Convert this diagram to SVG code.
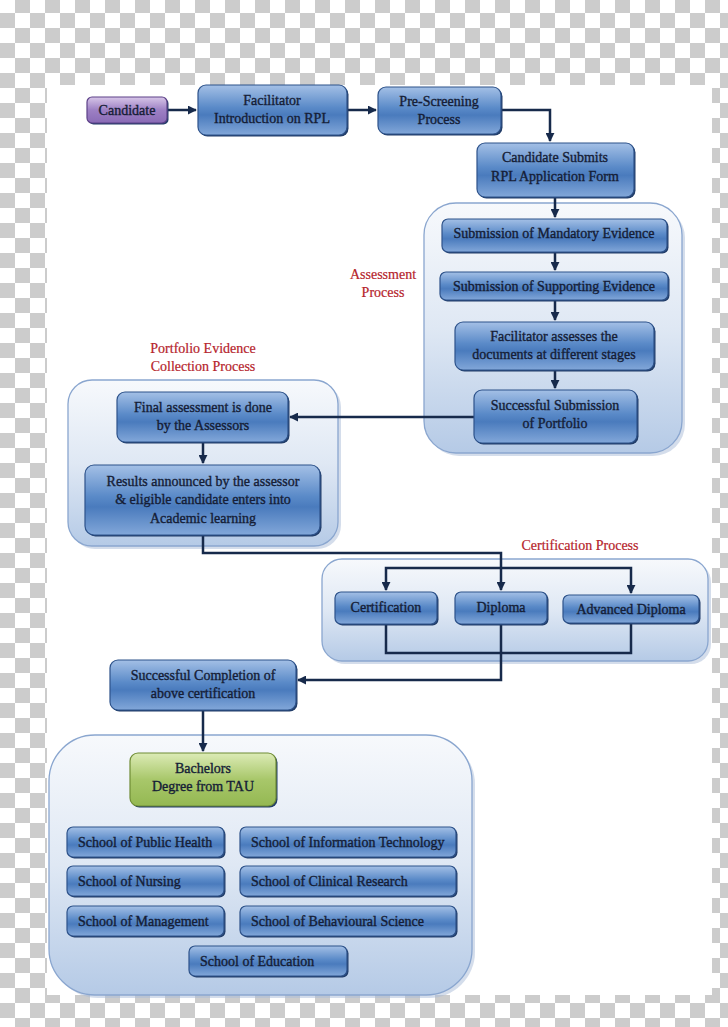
<svg xmlns="http://www.w3.org/2000/svg" width="728" height="1027" viewBox="0 0 728 1027">
<defs>
<pattern id="checker" patternUnits="userSpaceOnUse" x="0" y="-2" width="30" height="30">
<rect width="30" height="30" fill="#ffffff"/>
<rect x="15" y="0" width="15" height="15" fill="#cccccc"/>
<rect x="0" y="15" width="15" height="15" fill="#cccccc"/>
</pattern>
<linearGradient id="blue" x1="0" y1="0" x2="0" y2="1">
<stop offset="0" stop-color="#a4c0e6"/>
<stop offset="0.45" stop-color="#5a8ac8"/>
<stop offset="0.6" stop-color="#4a7bbd"/>
<stop offset="1" stop-color="#82a7d9"/>
</linearGradient>
<linearGradient id="purple" x1="0" y1="0" x2="0" y2="1">
<stop offset="0" stop-color="#d7c6e8"/>
<stop offset="0.5" stop-color="#9d80c4"/>
<stop offset="1" stop-color="#8a6bb6"/>
</linearGradient>
<linearGradient id="green" x1="0" y1="0" x2="0" y2="1">
<stop offset="0" stop-color="#dcebb6"/>
<stop offset="0.5" stop-color="#a8c76a"/>
<stop offset="1" stop-color="#94b852"/>
</linearGradient>
<linearGradient id="cont" x1="0" y1="0" x2="0" y2="1">
<stop offset="0" stop-color="#f7f9fc"/>
<stop offset="0.5" stop-color="#dfe8f4"/>
<stop offset="1" stop-color="#b5cae6"/>
</linearGradient>
<marker id="arr" viewBox="0 0 10 10" refX="9" refY="5" markerWidth="9" markerHeight="9" markerUnits="userSpaceOnUse" orient="auto">
<path d="M0,0 L10,5 L0,10 z" fill="#172a4b"/>
</marker>
</defs>
<style>
.box{fill:url(#blue);stroke:#2d528a;stroke-width:1.2}
.sh{fill:#223d68}
.pbox{fill:url(#purple);stroke:#5d4188;stroke-width:1.2}
.gbox{fill:url(#green);stroke:#6f8c35;stroke-width:1.2}
.cont{fill:url(#cont);stroke:#8aa6cf;stroke-width:1.3}
.csh{fill:#a9bcd8;opacity:0.5}
text{font-family:"Liberation Serif","Times New Roman",serif;font-size:14px;fill:#151d36;stroke:#151d36;stroke-width:0.35}
.c{text-anchor:middle}
.red{fill:#b5232b;stroke:#b5232b;stroke-width:0.2}
.conn{fill:none;stroke:#172a4b;stroke-width:2.5}
</style>
<rect width="728" height="1027" fill="url(#checker)"/>
<rect x="47" y="85" width="665" height="910" fill="#ffffff"/>

<g id="containers">
<g id="assessment-container">
<rect class="csh" x="427" y="206" width="258" height="250" rx="32"/>
<rect class="cont" x="424" y="203" width="258" height="250" rx="32"/>
</g>
<g id="portfolio-container">
<rect class="csh" x="71" y="383" width="270" height="166" rx="24"/>
<rect class="cont" x="68" y="380" width="270" height="166" rx="24"/>
</g>
<g id="certification-container">
<rect class="csh" x="325" y="562" width="386" height="102" rx="20"/>
<rect class="cont" x="322" y="559" width="386" height="102" rx="20"/>
</g>
<g id="bachelors-container">
<rect class="csh" x="52" y="738" width="423" height="260" rx="46"/>
<rect class="cont" x="49" y="735" width="423" height="260" rx="46"/>
</g>
</g>

<g id="labels">
<text class="c red" x="383" y="279">Assessment</text>
<text class="c red" x="383" y="297">Process</text>
<text class="c red" x="203" y="353">Portfolio Evidence</text>
<text class="c red" x="203" y="371">Collection Process</text>
<text class="c red" x="580" y="550">Certification Process</text>
</g>

<g id="connectors">
<path class="conn" d="M167,110 H196" marker-end="url(#arr)"/>
<path class="conn" d="M347,110 H376" marker-end="url(#arr)"/>
<path class="conn" d="M501,110 H550 V141" marker-end="url(#arr)"/>
<path class="conn" d="M555,197 V217" marker-end="url(#arr)"/>
<path class="conn" d="M555,252 V270" marker-end="url(#arr)"/>
<path class="conn" d="M555,300 V320" marker-end="url(#arr)"/>
<path class="conn" d="M555,370 V388" marker-end="url(#arr)"/>
<path class="conn" d="M474,417 H290" marker-end="url(#arr)"/>
<path class="conn" d="M203,442 V463" marker-end="url(#arr)"/>
<path class="conn" d="M203,535 V553 H501 V590" marker-end="url(#arr)"/>
<path class="conn" d="M501,568 H386 V590" marker-end="url(#arr)"/>
<path class="conn" d="M501,568 H631 V593" marker-end="url(#arr)"/>
<path class="conn" d="M386,624 V653 H631 V623"/>
<path class="conn" d="M501,624 V680 H298" marker-end="url(#arr)"/>
<path class="conn" d="M203,710 V751" marker-end="url(#arr)"/>
</g>

<g id="n-candidate">
<rect class="sh" x="88.5" y="98.5" width="80" height="26" rx="5"/>
<rect class="pbox" x="87" y="97" width="80" height="26" rx="5"/>
<text class="c" x="127" y="114.5">Candidate</text>
</g>
<g id="n-facilitator">
<rect class="sh" x="199.5" y="86.5" width="149" height="50" rx="8"/>
<rect class="box" x="198" y="85" width="149" height="50" rx="8"/>
<text class="c" x="272" y="105">Facilitator</text>
<text class="c" x="272" y="123">Introduction on RPL</text>
</g>
<g id="n-prescreening">
<rect class="sh" x="379.5" y="88.5" width="123" height="47" rx="8"/>
<rect class="box" x="378" y="87" width="123" height="47" rx="8"/>
<text class="c" x="439" y="106">Pre-Screening</text>
<text class="c" x="439" y="124">Process</text>
</g>
<g id="n-submits">
<rect class="sh" x="478.5" y="144.5" width="157" height="54" rx="8"/>
<rect class="box" x="477" y="143" width="157" height="54" rx="8"/>
<text class="c" x="555" y="162">Candidate Submits</text>
<text class="c" x="555" y="181">RPL Application Form</text>
</g>
<g id="n-mandatory">
<rect class="sh" x="443.5" y="220.5" width="225" height="33" rx="6"/>
<rect class="box" x="442" y="219" width="225" height="33" rx="6"/>
<text class="c" x="554" y="238">Submission of Mandatory Evidence</text>
</g>
<g id="n-supporting">
<rect class="sh" x="441.5" y="273.5" width="228" height="28" rx="6"/>
<rect class="box" x="440" y="272" width="228" height="28" rx="6"/>
<text class="c" x="554" y="290.5">Submission of Supporting Evidence</text>
</g>
<g id="n-facilitator-assesses">
<rect class="sh" x="456.5" y="323.5" width="199" height="48" rx="8"/>
<rect class="box" x="455" y="322" width="199" height="48" rx="8"/>
<text class="c" x="554" y="341">Facilitator assesses the</text>
<text class="c" x="554" y="359">documents at different stages</text>
</g>
<g id="n-successful-submission">
<rect class="sh" x="475.5" y="391.5" width="163" height="53" rx="8"/>
<rect class="box" x="474" y="390" width="163" height="53" rx="8"/>
<text class="c" x="555" y="410">Successful Submission</text>
<text class="c" x="555" y="428">of Portfolio</text>
</g>
<g id="n-final-assessment">
<rect class="sh" x="118.5" y="393.5" width="171" height="50" rx="8"/>
<rect class="box" x="117" y="392" width="171" height="50" rx="8"/>
<text class="c" x="203" y="412">Final assessment is done</text>
<text class="c" x="203" y="430">by the Assessors</text>
</g>
<g id="n-results">
<rect class="sh" x="86.5" y="466.5" width="235" height="70" rx="9"/>
<rect class="box" x="85" y="465" width="235" height="70" rx="9"/>
<text class="c" x="203" y="486">Results announced by the assessor</text>
<text class="c" x="203" y="504">&amp; eligible candidate enters into</text>
<text class="c" x="203" y="523">Academic learning</text>
</g>
<g id="n-certification">
<rect class="sh" x="336.5" y="593.5" width="102" height="32" rx="6"/>
<rect class="box" x="335" y="592" width="102" height="32" rx="6"/>
<text class="c" x="386" y="612">Certification</text>
</g>
<g id="n-diploma">
<rect class="sh" x="456.5" y="593.5" width="92" height="32" rx="6"/>
<rect class="box" x="455" y="592" width="92" height="32" rx="6"/>
<text class="c" x="501" y="612">Diploma</text>
</g>
<g id="n-advanced-diploma">
<rect class="sh" x="564.5" y="596.5" width="136" height="28" rx="6"/>
<rect class="box" x="563" y="595" width="136" height="28" rx="6"/>
<text class="c" x="631" y="613.5">Advanced Diploma</text>
</g>
<g id="n-successful-completion">
<rect class="sh" x="111.5" y="661.5" width="186" height="50" rx="8"/>
<rect class="box" x="110" y="660" width="186" height="50" rx="8"/>
<text class="c" x="203" y="680">Successful Completion of</text>
<text class="c" x="203" y="698">above certification</text>
</g>
<g id="n-bachelors">
<rect class="sh" x="131.5" y="754.5" width="146" height="53" rx="8"/>
<rect class="gbox" x="130" y="753" width="146" height="53" rx="8"/>
<text class="c" x="203" y="773">Bachelors</text>
<text class="c" x="203" y="791">Degree from TAU</text>
</g>
<g id="n-public-health">
<rect class="sh" x="68.5" y="828.5" width="157" height="30" rx="6"/>
<rect class="box" x="67" y="827" width="157" height="30" rx="6"/>
<text x="78" y="846.5">School of Public Health</text>
</g>
<g id="n-information-technology">
<rect class="sh" x="241.5" y="828.5" width="216" height="30" rx="6"/>
<rect class="box" x="240" y="827" width="216" height="30" rx="6"/>
<text x="251" y="846.5">School of Information Technology</text>
</g>
<g id="n-nursing">
<rect class="sh" x="68.5" y="867.5" width="157" height="30" rx="6"/>
<rect class="box" x="67" y="866" width="157" height="30" rx="6"/>
<text x="78" y="885.5">School of Nursing</text>
</g>
<g id="n-clinical-research">
<rect class="sh" x="241.5" y="867.5" width="216" height="30" rx="6"/>
<rect class="box" x="240" y="866" width="216" height="30" rx="6"/>
<text x="251" y="885.5">School of Clinical Research</text>
</g>
<g id="n-management">
<rect class="sh" x="68.5" y="907.5" width="157" height="30" rx="6"/>
<rect class="box" x="67" y="906" width="157" height="30" rx="6"/>
<text x="78" y="925.5">School of Management</text>
</g>
<g id="n-behavioural-science">
<rect class="sh" x="241.5" y="907.5" width="216" height="30" rx="6"/>
<rect class="box" x="240" y="906" width="216" height="30" rx="6"/>
<text x="251" y="925.5">School of Behavioural Science</text>
</g>
<g id="n-education">
<rect class="sh" x="190.5" y="947.5" width="158" height="30" rx="6"/>
<rect class="box" x="189" y="946" width="158" height="30" rx="6"/>
<text x="200" y="965.5">School of Education</text>
</g>
</svg>
